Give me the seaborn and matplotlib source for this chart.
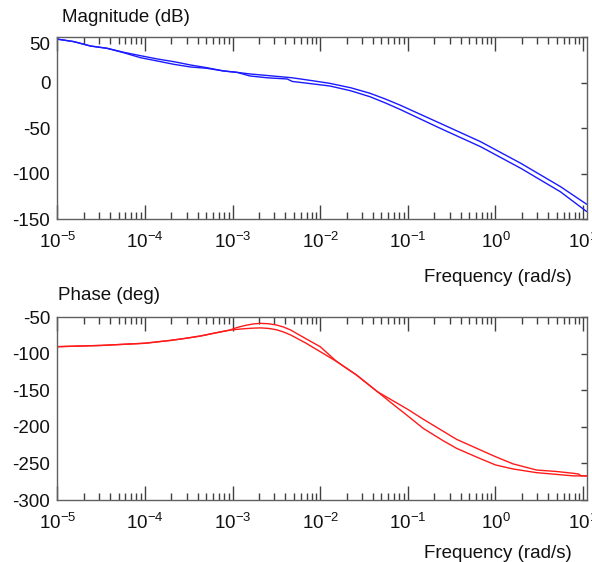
import numpy as np
import pandas as pd
import matplotlib
matplotlib.use("Agg")
import matplotlib.pyplot as plt
import matplotlib.ticker as mticker
import seaborn as sns

# Magnitude response (dB) of the two fitted models
mag_freq = [1.0e-5, 1.55e-5, 2.4e-5, 3.7e-5, 5.75e-5, 8.9e-5, 1.38e-4, 2.14e-4,
            3.3e-4, 5.1e-4, 7.9e-4, 1.12e-3, 1.58e-3, 2.5e-3, 4.2e-3, 4.8e-3,
            7.9e-3, 1.29e-2, 2.24e-2, 3.7e-2, 5.5e-2, 8.1e-2, 0.234, 0.676,
            1.95, 5.5, 11.0]
mag_a = [48, 45.2, 40.4, 37.9, 33.5, 29.8, 26.2, 23.2, 19.6, 16.6, 13, 11.5, 9.7,
         8.0, 6.0, 5.5, 2.5, -0.6, -5.5, -11.5, -17.7, -24.4, -44.5, -64.7,
         -88.5, -114, -133.5]
mag_b = [48, 45.2, 40.4, 37.9, 33.0, 27.6, 24, 20.3, 17.4, 15.9, 13, 11.5, 7.5,
         5.5, 4.2, 1.5, -1.0, -3.5, -8.8, -15.3, -22, -29.1, -50, -70.2, -94,
         -119.7, -141.5]

# Phase response (deg)
ph_freq = [1.0e-5, 3.16e-5, 1.0e-4, 2.0e-4, 2.9e-4, 4.3e-4, 6.3e-4, 9.3e-4,
           1.12e-3, 1.41e-3, 1.74e-3, 2.1e-3, 2.57e-3, 3.16e-3, 3.8e-3, 4.6e-3,
           6.8e-3, 1.0e-2, 1.55e-2, 2.6e-2, 4.5e-2, 6.3e-2, 0.1, 0.15, 0.25,
           0.36, 0.63, 1.0, 1.58, 2.95, 5.0, 7.8, 8.9, 9.5, 11.0]
ph_a = [-90.2, -88.5, -85.5, -81.5, -78.8, -75.6, -71.5, -67.5, -64, -61, -59,
        -58.3, -58.8, -60.5, -63.2, -67.4, -79, -90.2, -110.7, -129, -151.8,
        -166, -185, -202, -218.5, -229.3, -242, -252, -257.5, -262.6, -265,
        -267, -267, -267, -267]
ph_b = [-90.2, -88.5, -85.5, -81.5, -78.8, -75.6, -71.5, -67.5, -66.5, -65.5,
        -64.8, -64.5, -65.2, -67, -70, -74.2, -85, -97, -110.7, -129, -151.8,
        -162, -176, -189.5, -205.5, -217, -230, -240.7, -250.5, -259, -261,
        -263.5, -264.5, -267, -267]

decades = [1e-5, 1e-4, 1e-3, 1e-2, 1e-1, 1e0, 1e1]
mag_ticks = [50, 0, -50, -100, -150]
phase_ticks = [-50, -100, -150, -200, -250, -300]

mag_df = pd.concat([
    pd.DataFrame({"freq": mag_freq, "value": mag_a, "model": "a"}),
    pd.DataFrame({"freq": mag_freq, "value": mag_b, "model": "b"}),
])
ph_df = pd.concat([
    pd.DataFrame({"freq": ph_freq, "value": ph_a, "model": "a"}),
    pd.DataFrame({"freq": ph_freq, "value": ph_b, "model": "b"}),
])

sns.set_theme(style="white")
plt.rcParams["font.family"] = ["Liberation Sans", "DejaVu Sans"]
plt.rcParams["mathtext.fontset"] = "custom"
plt.rcParams["mathtext.rm"] = "Liberation Sans"
plt.rcParams["mathtext.it"] = "Liberation Sans"

W, H = 592, 562
FS = 13.5
fig = plt.figure(figsize=(W / 100, H / 100), dpi=100)

def px_axes(left, top, right, bottom):
    return fig.add_axes([left / W, 1 - bottom / H, (right - left) / W, (bottom - top) / H])

ax1 = px_axes(57.3, 37.3, 586.7, 219.3)
ax2 = px_axes(57.3, 317.3, 586.7, 500.0)

sns.lineplot(data=mag_df, x="freq", y="value", units="model", estimator=None,
             color="#1a1aff", lw=1.0, ax=ax1, sort=False)
sns.lineplot(data=ph_df, x="freq", y="value", units="model", estimator=None,
             color="#ff1a1a", lw=1.0, ax=ax2, sort=False)

def style(ax, ylim, yticks, title, title_x, title_y, xlabel_y):
    ax.set_xscale("log")
    ax.set_xlim(1e-5, 11.0)
    ax.set_ylim(*ylim)
    ax.set_xticks(decades)
    ax.xaxis.set_minor_locator(mticker.LogLocator(base=10, subs=np.arange(2, 10)))
    ax.xaxis.set_minor_formatter(mticker.NullFormatter())
    ax.set_yticks(yticks)
    ax.set_yticklabels([str(t) for t in yticks])
    ax.set_xlabel("")
    ax.set_ylabel("")
    for s in ax.spines.values():
        s.set_color("#606060")
        s.set_linewidth(1.0)
    ax.tick_params(axis="x", which="major", direction="in", top=True, bottom=True,
                   length=10, width=1, color="#404040", labelsize=FS, pad=9)
    ax.tick_params(axis="x", which="minor", direction="in", top=True, bottom=True,
                   length=5, width=1, color="#404040")
    ax.tick_params(axis="y", which="major", direction="in", left=False, right=True,
                   labelleft=True, length=4, width=1, color="#404040",
                   labelsize=FS, pad=5)
    ax.tick_params(axis="both", labelcolor="#111111")
    fig.text(title_x / W, 1 - title_y / H, title, fontsize=FS,
             ha="left", va="center", color="#111111")
    fig.text(572 / W, 1 - xlabel_y / H, "Frequency (rad/s)", fontsize=FS,
             ha="right", va="center", color="#111111")

style(ax1, (-150, 50), mag_ticks, "Magnitude (dB)", 62, 18, 277)
style(ax2, (-300, -50), phase_ticks, "Phase (deg)", 58, 296, 553)

# the topmost magnitude label sits just below the frame edge
ax1.get_yticklabels()[0].set_verticalalignment("top")

fig.savefig("out.png", dpi=100, facecolor="white")
